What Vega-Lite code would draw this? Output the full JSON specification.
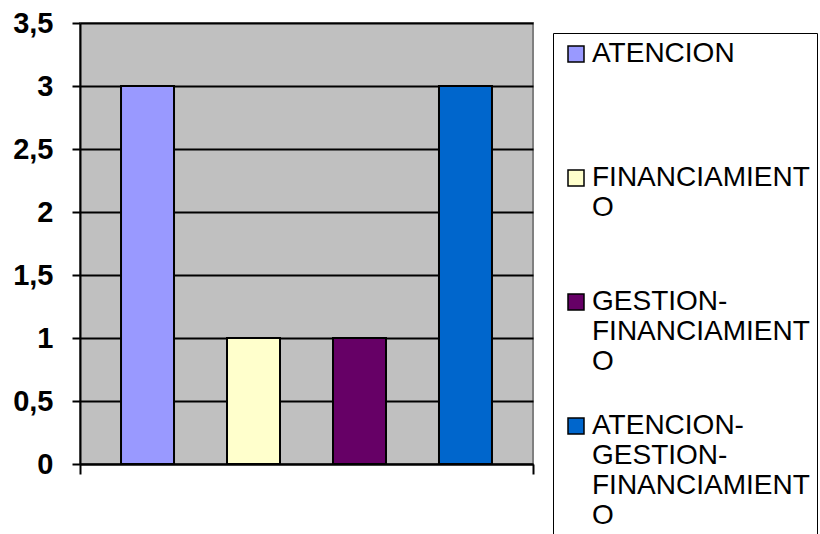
{
  "$schema": "https://vega.github.io/schema/vega-lite/v6.json",
  "width": 453,
  "height": 441,
  "autosize": {"type": "none"},
  "padding": {"left": 80, "top": 23, "right": 287, "bottom": 70},
  "background": "white",
  "config": {
    "view": {"fill": "#C0C0C0", "stroke": "#808080", "strokeWidth": 2},
    "font": "Liberation Sans"
  },
  "data": {
    "values": [
      {"grupo": "1", "serie": "ATENCION", "valor": 3},
      {"grupo": "1", "serie": "FINANCIAMIENTO", "valor": 1},
      {"grupo": "1", "serie": "GESTION-FINANCIAMIENTO", "valor": 1},
      {"grupo": "1", "serie": "ATENCION-GESTION-FINANCIAMIENTO", "valor": 3}
    ]
  },
  "mark": {"type": "bar", "stroke": "black", "strokeWidth": 2},
  "encoding": {
    "x": {
      "field": "grupo",
      "type": "nominal",
      "scale": {"paddingInner": 0, "paddingOuter": 0},
      "axis": {
        "labels": false,
        "title": null,
        "tickBand": "extent",
        "tickSize": 10,
        "tickColor": "black",
        "tickWidth": 2,
        "domainColor": "black",
        "domainWidth": 2
      }
    },
    "xOffset": {
      "field": "serie",
      "type": "nominal",
      "sort": ["ATENCION", "FINANCIAMIENTO", "GESTION-FINANCIAMIENTO", "ATENCION-GESTION-FINANCIAMIENTO"],
      "scale": {"paddingInner": 0.5, "paddingOuter": 0.387}
    },
    "y": {
      "field": "valor",
      "type": "quantitative",
      "scale": {"domain": [0, 3.5], "nice": false},
      "axis": {
        "values": [0, 0.5, 1, 1.5, 2, 2.5, 3, 3.5],
        "title": null,
        "format": "~g",
        "labelExpr": "replace(datum.label, '.', ',')",
        "labelFont": "Liberation Sans",
        "labelFontSize": 29,
        "labelFontWeight": "bold",
        "labelColor": "black",
        "labelPadding": 19,
        "tickSize": 8,
        "tickColor": "black",
        "tickWidth": 2,
        "domainColor": "black",
        "domainWidth": 2,
        "grid": true,
        "gridColor": "black",
        "gridWidth": 2,
        "gridOpacity": 1
      }
    },
    "color": {
      "field": "serie",
      "type": "nominal",
      "scale": {
        "domain": ["ATENCION", "FINANCIAMIENTO", "GESTION-FINANCIAMIENTO", "ATENCION-GESTION-FINANCIAMIENTO"],
        "range": ["#9999FF", "#FFFFCC", "#660066", "#0066CC"]
      },
      "legend": {
        "title": null,
        "orient": "none",
        "legendX": 473,
        "legendY": 10,
        "strokeColor": "black",
        "fillColor": "white",
        "padding": 7,
        "symbolOffset": 2,
        "symbolType": "square",
        "symbolSize": 256,
        "symbolStrokeColor": "black",
        "symbolStrokeWidth": 1.5,
        "symbolOpacity": 1,
        "labelFont": "Liberation Sans",
        "labelFontSize": 28,
        "labelColor": "black",
        "labelLineHeight": 31,
        "labelOffset": 2,
        "labelLimit": 400,
        "labelBaseline": "middle",
        "gridAlign": "all",
        "rowPadding": 6,
        "labelExpr": "datum.label == 'FINANCIAMIENTO' ? ['FINANCIAMIENT','O'] : datum.label == 'GESTION-FINANCIAMIENTO' ? ['GESTION-','FINANCIAMIENT','O'] : datum.label == 'ATENCION-GESTION-FINANCIAMIENTO' ? ['ATENCION-','GESTION-','FINANCIAMIENT','O'] : datum.label"
      }
    }
  }
}
